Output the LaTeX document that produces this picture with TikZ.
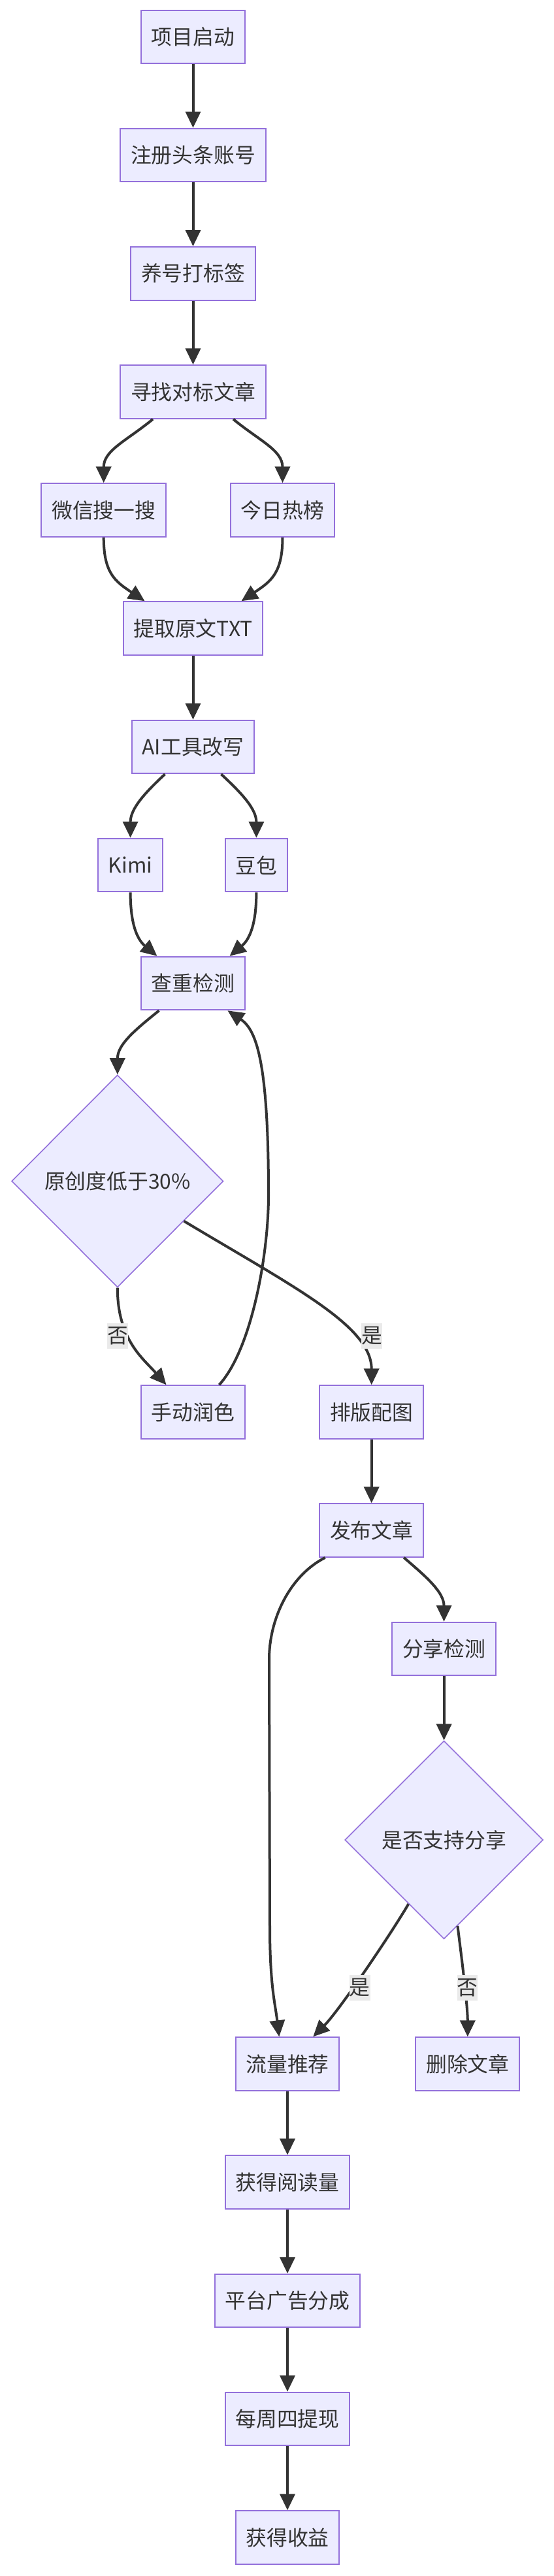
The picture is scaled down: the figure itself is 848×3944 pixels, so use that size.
\documentclass[tikz,border=0pt]{standalone}
\usepackage{fontspec}
\setmainfont{Noto Sans CJK SC}
\usetikzlibrary{arrows.meta,shapes.geometric}
\definecolor{nodefill}{HTML}{ECECFF}
\definecolor{nodeline}{HTML}{9370DB}
\definecolor{linec}{HTML}{333333}
\definecolor{txtc}{HTML}{333333}
\definecolor{lblbg}{HTML}{EAEAEA}
\begin{document}
\begin{tikzpicture}[x=1pt,y=-1pt,
  every node/.style={font=\fontsize{31.8pt}{38pt}\selectfont, text=txtc},
  box/.style={draw=nodeline, line width=2pt, fill=nodefill, rectangle, inner xsep=15.75pt, inner ysep=0pt, minimum height=81.5pt},
  decision/.style={draw=nodeline, line width=1.6pt, fill=nodefill, diamond, inner sep=0pt},
  lbl/.style={fill=lblbg, inner sep=0pt, minimum height=38.5pt},
  arrowline/.style={draw=linec, line width=4pt, -{Triangle[length=25pt,width=23pt]}}]
\useasboundingbox (0,0) rectangle (848,3944);
\node[box] (start) at (295.5,56.5) {项目启动};
\node[box] (reg) at (295.5,237.5) {注册头条账号};
\node[box] (tag) at (295.5,418.8) {养号打标签};
\node[box] (find) at (295.5,600) {寻找对标文章};
\node[box] (wx) at (158.7,781) {微信搜一搜};
\node[box] (hot) at (432.5,781) {今日热榜};
\node[box] (txt) at (295.5,962) {提取原文TXT};
\node[box] (ai) at (295.5,1143.5) {AI工具改写};
\node[box] (kimi) at (199.6,1324.5) {Kimi};
\node[box] (doubao) at (392.4,1324.5) {豆包};
\node[box] (check) at (295.5,1505.5) {查重检测};
\node[decision, minimum width=324pt, minimum height=325pt] (orig) at (179.8,1808.4) {原创度低于30\%};
\node[box] (polish) at (295.5,2162) {手动润色};
\node[box] (layout) at (568.7,2162) {排版配图};
\node[box] (pub) at (568.7,2343) {发布文章};
\node[box] (share) at (679.6,2524.5) {分享检测};
\node[decision, minimum width=303.5pt, minimum height=303.5pt] (canshare) at (679.6,2817) {是否支持分享};
\node[box] (traffic) at (440,3160) {流量推荐};
\node[box] (del) at (715.8,3160) {删除文章};
\node[box] (read) at (440,3341) {获得阅读量};
\node[box] (ad) at (440,3522.5) {平台广告分成};
\node[box] (cash) at (440,3703.5) {每周四提现};
\node[box] (income) at (440,3885) {获得收益};
\coordinate (backup) at (411,1830);
\coordinate (pubturn) at (412,2540);
\coordinate (pubdown) at (413,2950);
\draw[arrowline] (start) -- (reg);
\draw[arrowline] (reg) -- (tag);
\draw[arrowline] (tag) -- (find);
\draw[arrowline] ([xshift=-61.5pt]find.south) .. controls +(-40,33) and +(0,-50) .. (wx.north);
\draw[arrowline] ([xshift=61.5pt]find.south) .. controls +(40,33) and +(0,-50) .. (hot.north);
\draw[arrowline] (wx.south) .. controls +(0,55) and +(-45,-30) .. ([xshift=-74pt]txt.north);
\draw[arrowline] (hot.south) .. controls +(0,55) and +(45,-30) .. ([xshift=74pt]txt.north);
\draw[arrowline] (txt) -- (ai);
\draw[arrowline] ([xshift=-43pt]ai.south) .. controls +(-30,28) and +(0,-45) .. (kimi.north);
\draw[arrowline] ([xshift=43pt]ai.south) .. controls +(30,28) and +(0,-45) .. (doubao.north);
\draw[arrowline] (kimi.south) .. controls +(0,50) and +(-30,-25) .. ([xshift=-55pt]check.north);
\draw[arrowline] (doubao.south) .. controls +(0,50) and +(30,-25) .. ([xshift=56pt]check.north);
\draw[arrowline] ([xshift=-52pt]check.south) .. controls +(-40,32) and +(0,-45) .. (orig.north);
\draw[arrowline] (orig.south) .. controls +(0,80) and +(-35,-40) .. ([xshift=-41pt]polish.north);
\draw[arrowline] (orig.-31.5) .. controls +(170,102) and +(0,-90) .. (layout.north);
\draw[arrowline] ([xshift=40pt]polish.north) .. controls +(50,-55) and +(0,90) .. (backup)
  .. controls +(0,-200) and +(45,30) .. ([xshift=53pt]check.south);
\draw[arrowline] (layout) -- (pub);
\draw[arrowline] ([xshift=-71pt]pub.south) .. controls +(-55,28) and +(0,-60) .. (pubturn) -- (pubdown)
  .. controls +(0,90) and +(-6,-50) .. ([xshift=-12.7pt]traffic.north);
\draw[arrowline] ([xshift=49.5pt]pub.south) .. controls +(35,30) and +(0,-45) .. (share.north);
\draw[arrowline] (share) -- (canshare);
\draw[arrowline] (canshare.241) .. controls +(-25,43) and +(40,-40) .. ([xshift=39.3pt]traffic.north);
\draw[arrowline] (canshare.279.5) .. controls +(5,40) and +(0,-50) .. (del.north);
\draw[arrowline] (traffic) -- (read);
\draw[arrowline] (read) -- (ad);
\draw[arrowline] (ad) -- (cash);
\draw[arrowline] (cash) -- (income);
\node[lbl] (no1) at (180,2045.3) {否};
\node[lbl] (yes1) at (569,2045.3) {是};
\node[lbl] (yes2) at (550.8,3043.3) {是};
\node[lbl] (no2) at (715.5,3043.5) {否};
\end{tikzpicture}
\end{document}
